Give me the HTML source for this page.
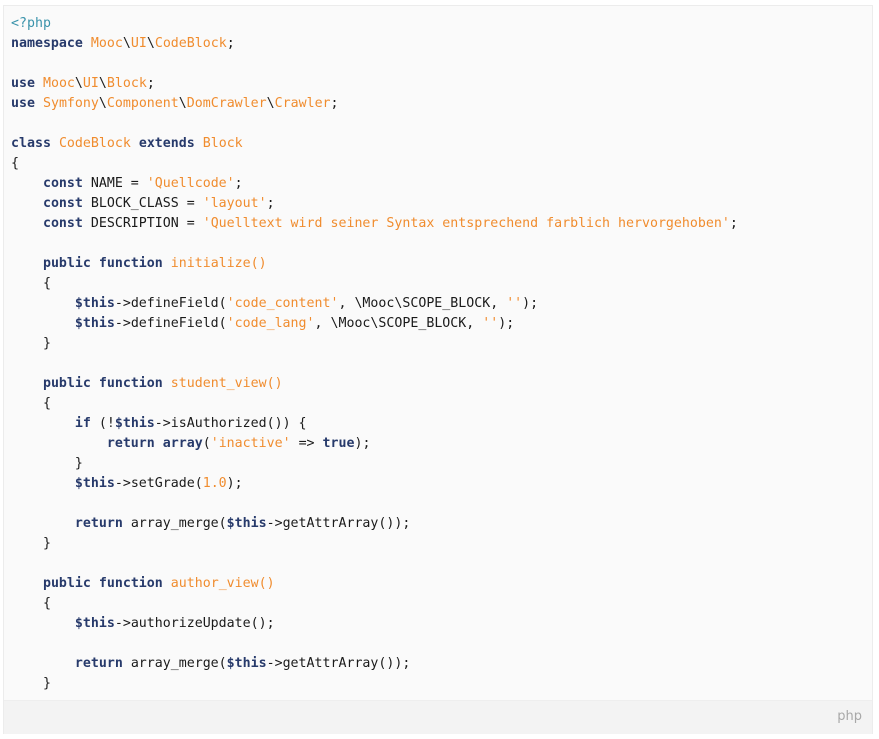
<!DOCTYPE html>
<html><head><meta charset="utf-8"><style>
html,body{margin:0;padding:0;background:#fff;width:879px;height:739px;overflow:hidden}
.box{position:absolute;left:3px;top:5px;width:868px;height:727px;border:1px solid #ececec;background:#fafafa}
pre{position:absolute;left:7px;top:8px;margin:0;font-family:"DejaVu Sans Mono","Liberation Mono",monospace;font-size:13.28px;line-height:20px;color:#1a1a1a}
.k{color:#273a6b;font-weight:bold}
.s{color:#f08c2e}
.c{color:#3a93ab}
.foot{position:absolute;left:0;top:694px;width:868px;height:33px;background:#f3f3f3;border-top:1px solid #eee}
.foot span{position:absolute;right:10px;top:8px;font-family:"DejaVu Sans","Liberation Sans",sans-serif;font-size:13px;color:#a8a8a8}
</style></head><body>
<div class="box">
<pre><span class="c">&lt;?php</span>
<span class="k">namespace</span> <span class="s">Mooc</span>\<span class="s">UI</span>\<span class="s">CodeBlock</span>;

<span class="k">use</span> <span class="s">Mooc</span>\<span class="s">UI</span>\<span class="s">Block</span>;
<span class="k">use</span> <span class="s">Symfony</span>\<span class="s">Component</span>\<span class="s">DomCrawler</span>\<span class="s">Crawler</span>;

<span class="k">class</span> <span class="s">CodeBlock</span> <span class="k">extends</span> <span class="s">Block</span>
{
    <span class="k">const</span> NAME = <span class="s">'Quellcode'</span>;
    <span class="k">const</span> BLOCK_CLASS = <span class="s">'layout'</span>;
    <span class="k">const</span> DESCRIPTION = <span class="s">'Quelltext wird seiner Syntax entsprechend farblich hervorgehoben'</span>;

    <span class="k">public</span> <span class="k">function</span> <span class="s">initialize()</span>
    {
        <span class="k">$this</span>-&gt;defineField(<span class="s">'code_content'</span>, \Mooc\SCOPE_BLOCK, <span class="s">''</span>);
        <span class="k">$this</span>-&gt;defineField(<span class="s">'code_lang'</span>, \Mooc\SCOPE_BLOCK, <span class="s">''</span>);
    }

    <span class="k">public</span> <span class="k">function</span> <span class="s">student_view()</span>
    {
        <span class="k">if</span> (!<span class="k">$this</span>-&gt;isAuthorized()) {
            <span class="k">return</span> <span class="k">array</span>(<span class="s">'inactive'</span> =&gt; <span class="k">true</span>);
        }
        <span class="k">$this</span>-&gt;setGrade(<span class="s">1.0</span>);

        <span class="k">return</span> array_merge(<span class="k">$this</span>-&gt;getAttrArray());
    }

    <span class="k">public</span> <span class="k">function</span> <span class="s">author_view()</span>
    {
        <span class="k">$this</span>-&gt;authorizeUpdate();

        <span class="k">return</span> array_merge(<span class="k">$this</span>-&gt;getAttrArray());
    }</pre>
<div class="foot"><span>php</span></div>
</div>
</body></html>
